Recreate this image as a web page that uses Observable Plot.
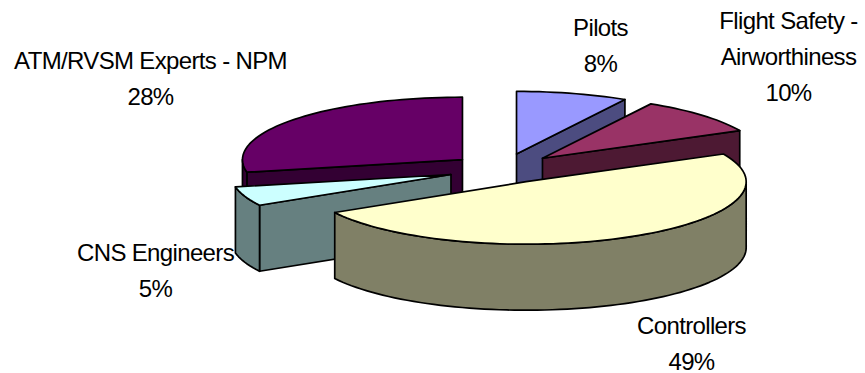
<!DOCTYPE html>
<html>
<head>
<meta charset="utf-8">
<script src="https://cdn.jsdelivr.net/npm/d3@7"></script>
<script src="https://cdn.jsdelivr.net/npm/@observablehq/plot@0.6"></script>
<style>html,body{margin:0;padding:0;background:#fff}svg{display:block}</style>
</head>
<body>
<div id="chart"></div>
<script>
// Data, clockwise from 12 o'clock
const categories = ["Pilots", "Flight Safety - Airworthiness", "Controllers", "CNS Engineers", "ATM/RVSM Experts - NPM"];
const shares = [8.2, 9.5, 49.1, 5.0, 28.2];
const percentLabels = ["8%", "10%", "49%", "5%", "28%"];
const labelLines = ["Pilots", "Flight Safety -\nAirworthiness", "Controllers", "CNS Engineers", "ATM/RVSM Experts - NPM"];
const topColors = ["#9999FF", "#993366", "#FFFFCC", "#CCFFFF", "#660066"];
const sideColors = ["#4C4C80", "#4D1933", "#808066", "#668080", "#330033"];

// Pie layout
const W = 865, H = 373;
const cx = 502, cy = 168.5, rx = 220, ry = 62.5;
const depth = 1.056;
const explode = [0.25, 0.25, 0.23, 0.25, 0.235];
const drawOrder = [4, 0, 1, 3, 2];
const labelAt = [[600, 42], [788, 53], [691, 340], [155, 266.5], [150, 75]];

const rad = d => d * Math.PI / 180;
let cum = 0;
const slices = shares.map((s, i) => {
  const a0 = cum / 100 * 360; cum += s;
  const a1 = cum / 100 * 360;
  const mid = rad((a0 + a1) / 2);
  return {i, a0, a1, ox: explode[i] * Math.sin(mid), oy: -explode[i] * Math.cos(mid)};
});
const rim = (s, a, dz = 0) => ({x: s.ox + Math.sin(rad(a)), y: s.oy - Math.cos(rad(a)) + dz});
const vertex = (s, dz = 0) => ({x: s.ox, y: s.oy + dz});
const arc = (s, a, b, dz = 0) => {
  const n = Math.max(2, Math.ceil(Math.abs(b - a) / 2));
  return d3.range(n + 1).map(k => rim(s, a + (b - a) * k / n, dz));
};

const faceStyle = {x: "x", y: "y", curve: "linear-closed", stroke: "#000", strokeWidth: 1.7, strokeLinejoin: "round", strokeOpacity: 1};
const face = (pts, fill) => Plot.line(pts, {...faceStyle, fill});

const marks = [];
for (const i of drawOrder) {
  const s = slices[i], side = sideColors[i];
  // radial walls facing the viewer
  if (s.a0 > 180) marks.push(face([vertex(s), rim(s, s.a0), rim(s, s.a0, depth), vertex(s, depth)], side));
  if (s.a1 < 180) marks.push(face([vertex(s), rim(s, s.a1), rim(s, s.a1, depth), vertex(s, depth)], side));
  // outer wall, front half only
  const f0 = Math.max(s.a0, 90), f1 = Math.min(s.a1, 270);
  if (f1 > f0) marks.push(face([...arc(s, f0, f1), ...arc(s, f1, f0, depth)], side));
  // top surface
  marks.push(face([vertex(s), ...arc(s, s.a0, s.a1)], topColors[i]));
}
// labels
categories.forEach((c, i) => {
  marks.push(Plot.text([labelLines[i] + "\n" + percentLabels[i]], {
    text: d => d,
    frameAnchor: "top-left",
    dx: labelAt[i][0],
    dy: labelAt[i][1],
    textAnchor: "middle",
    lineAnchor: "middle",
    lineHeight: 36 / 24,
    fontSize: 24,
    fill: "#000"
  }));
});

const chart = Plot.plot({
  width: W, height: H,
  margin: 0,
  x: {domain: [(0 - cx) / rx, (W - cx) / rx], range: [0, W], axis: null},
  y: {domain: [(0 - cy) / ry, (H - cy) / ry], range: [0, H], axis: null},
  style: {fontFamily: "'Liberation Sans', Arial, sans-serif", letterSpacing: "-0.65px", background: "#fff"},
  marks
});
document.getElementById("chart").append(chart);
</script>
</body>
</html>
